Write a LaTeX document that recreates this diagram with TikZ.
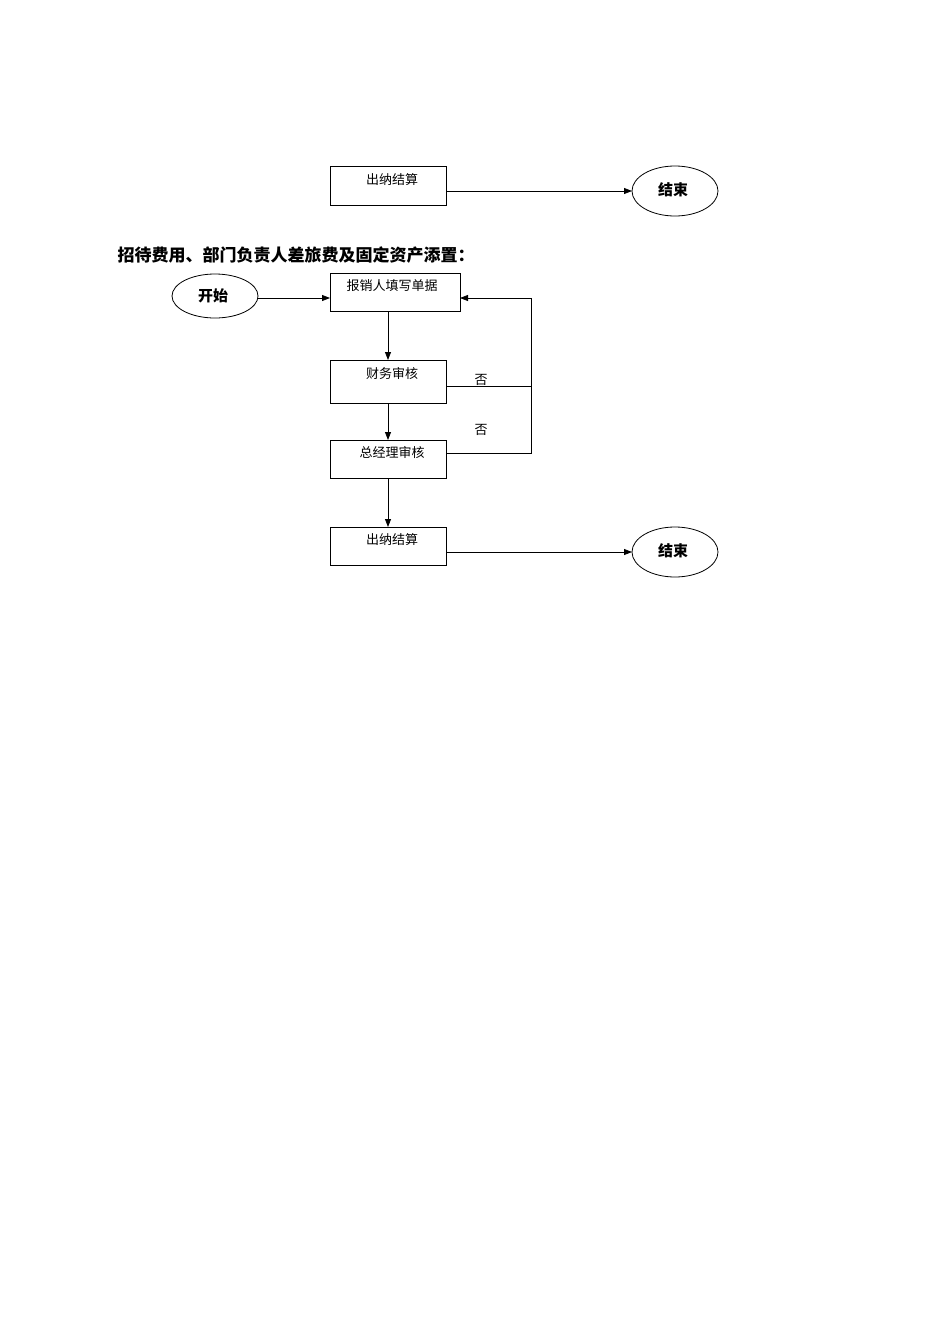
\documentclass[tikz,border=0pt]{standalone}
\usepackage{fontspec}
\setmainfont{Noto Sans CJK SC}
\usetikzlibrary{arrows.meta}
\begin{document}
\begin{tikzpicture}[x=1pt,y=-1pt,
  lbl/.style={font=\fontsize{13}{13}\selectfont},
  oval/.style={font=\bfseries\fontsize{15}{15}\selectfont},
  arr/.style={-{Triangle[length=8pt,width=6pt]},line width=0.8pt},
  ln/.style={line width=0.8pt}]
\useasboundingbox (0,0) rectangle (950,1344);
\draw[ln] (330,166) rectangle (446,205); \node[lbl] (b0) at (392,180) {出纳结算};
\coordinate (b0r) at (446,191);
\draw[ln] (675,191) ellipse (43pt and 25pt); \node[oval] (e0) at (673,190) {结束};
\coordinate (e0l) at (632,191);
\draw[arr] (b0r) -- (e0l);
\node[anchor=west,font=\bfseries\fontsize{17}{17}\selectfont] (t) at (114,255) {招待费用、部门负责人差旅费及固定资产添置：};
\draw[ln] (215,296) ellipse (43pt and 22pt); \node[oval] (s) at (213,296) {开始};
\coordinate (sr) at (258,298);
\draw[ln] (330,273) rectangle (460,311); \node[lbl] (b1) at (392,286) {报销人填写单据};
\coordinate (b1l) at (330,298); \coordinate (b1r) at (460,298); \coordinate (b1b) at (388,311);
\draw[arr] (sr) -- (b1l);
\draw[ln] (330,360) rectangle (446,403); \node[lbl] (b2) at (392,374) {财务审核};
\coordinate (b2t) at (388,360); \coordinate (b2b) at (388,403); \coordinate (b2r) at (446,386);
\draw[ln] (330,440) rectangle (446,478); \node[lbl] (b3) at (392,453) {总经理审核};
\coordinate (b3t) at (388,440); \coordinate (b3b) at (388,478); \coordinate (b3r) at (446,453);
\draw[ln] (330,527) rectangle (446,565); \node[lbl] (b4) at (392,540) {出纳结算};
\coordinate (b4t) at (388,527); \coordinate (b4r) at (446,552);
\draw[ln] (675,552) ellipse (43pt and 25pt); \node[oval] (e1) at (673,551) {结束};
\coordinate (e1l) at (632,552);
\draw[arr] (b1b) -- (b2t);
\draw[arr] (b2b) -- (b3t);
\draw[arr] (b3b) -- (b4t);
\draw[arr] (b4r) -- (e1l);
\coordinate (c1) at (531,386); \coordinate (c2) at (531,453); \coordinate (c0) at (531,298);
\draw[ln] (b2r) -- (c1);
\draw[ln] (b3r) -- (c2) -- (c0);
\draw[arr] (c0) -- (b1r);
\node[lbl] (n1) at (481,380) {否};
\node[lbl] (n2) at (481,430) {否};
\end{tikzpicture}
\end{document}
